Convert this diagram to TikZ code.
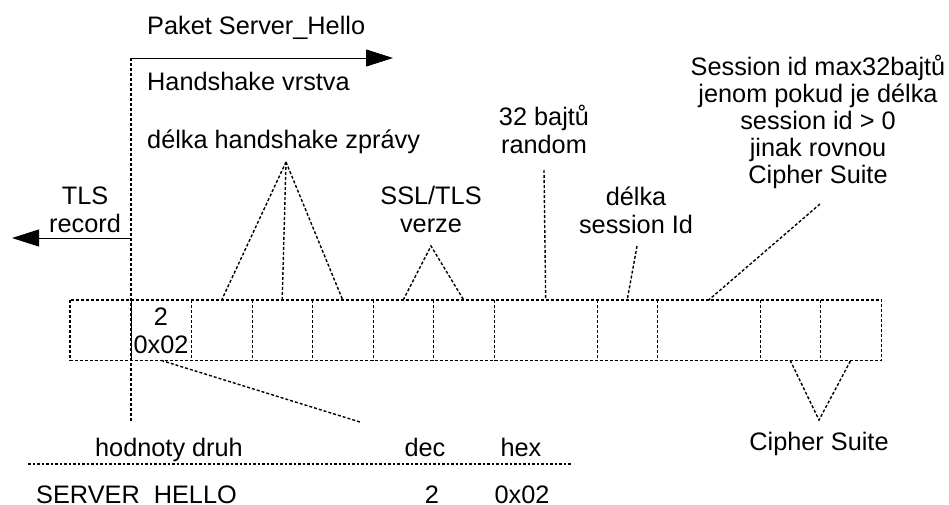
\documentclass[tikz,border=0pt]{standalone}
\usepackage{fontspec}
\setmainfont{Liberation Sans}
\usetikzlibrary{arrows.meta}
\begin{document}
\begin{tikzpicture}[x=1pt,y=-1pt,
  dsh/.style={line width=1.4pt, dash pattern=on 3pt off 2pt},
  fine/.style={line width=1.2pt, dash pattern=on 2.5pt off 2pt},
  lbl/.style={font=\fontsize{25.3}{28}\selectfont, inner sep=0pt, align=center},
  cell/.style={minimum height=60pt, inner sep=0pt, anchor=north west},
  arr/.style={line width=1pt, -{Triangle[length=27pt,width=17pt]}}]
\useasboundingbox (0,0) rectangle (949,504);
% byte cells
\foreach \n/\a/\b in {c1/70/131, c2/131/191, c3/191/252, c4/252/312, c5/312/373,
  c6/373/433, c7/433/494, c8/494/597, c9/597/657, c10/657/760, c11/760/820, c12/820/881}
  \node[cell, minimum width=\b-\a] (\n) at (\a,300) {};
\draw[dsh] (c1.north west) rectangle (c12.south east);
\foreach \n in {c1,c2,c3,c4,c5,c6,c7,c8,c9,c10,c11}
  \draw[dsh] (\n.north east) -- (\n.south east);
% labels (anchor=base is the baseline of the last line)
\node[lbl, anchor=base west] (paket) at (147,34) {Paket Server\_Hello};
\node[lbl, anchor=base west] (hsv) at (147,90) {Handshake vrstva};
\node[lbl, anchor=base west] (dhz) at (147,148) {délka handshake zprávy};
\node[lbl, anchor=base] (tls) at (85,232) {TLS\\record};
\node[lbl, anchor=base] (ssl) at (431,232) {SSL/TLS\\verze};
\node[lbl, anchor=base] (rnd) at (544,153) {32 bajtů\\random};
\node[lbl, anchor=base] (dsi) at (636,233) {délka\\session Id};
\node[lbl, anchor=base, font=\fontsize{25.3}{27}\selectfont] (sid) at (818,183)
  {Session id max32bajtů\\jenom pokud je délka\\session id > 0\\jinak rovnou\\Cipher Suite};
\node[lbl, anchor=base] (cs) at (819,450) {Cipher Suite};
\node[lbl, anchor=base] (val) at (161,353) {2\\0x02};
\node[lbl, anchor=base] (hd) at (169,456) {hodnoty druh};
\node[lbl, anchor=base] (dec) at (425,456) {dec};
\node[lbl, anchor=base] (hex) at (521,456) {hex};
\node[lbl, anchor=base west] (sh) at (36,503) {SERVER\_HELLO};
\node[lbl, anchor=base] (d2) at (432,503) {2};
\node[lbl, anchor=base] (h2) at (522,503) {0x02};
% helper points
\coordinate (vtop) at (131,58);
\coordinate (vmid) at (131,238);
\coordinate (vbot) at (131,421);
\coordinate (tipR) at (393,58);
\coordinate (tipL) at (12,238);
\coordinate (hsA) at (286,162);
\coordinate (sslA) at (431,246);
\coordinate (rndT) at (544,170);
\coordinate (dsiT) at (637,246);
\coordinate (sidT) at (820,204);
\coordinate (csA) at (819,420);
\coordinate (valE) at (360,422);
\coordinate (tl1) at (28,464);
\coordinate (tl2) at (572,464);
% connectors
\draw[dsh] (vtop) -- (vbot);
\draw[arr] (vtop) -- (tipR);
\draw[arr] (vmid) -- (tipL);
\draw[dsh] (hsA) -- (c3.north);
\draw[dsh] (hsA) -- (c4.north);
\draw[dsh] (hsA) -- (c5.north);
\draw[dsh] (c6.north) -- (sslA) -- (c7.north);
\draw[dsh] (rndT) -- (c8.north);
\draw[dsh] (dsiT) -- (c9.north);
\draw[dsh] (sidT) -- (c10.north);
\draw[dsh] (c11.south) -- (csA) -- (c12.south);
\draw[dsh] (c2.south) -- (valE);
\draw[fine] (tl1) -- (tl2);
\end{tikzpicture}
\end{document}
